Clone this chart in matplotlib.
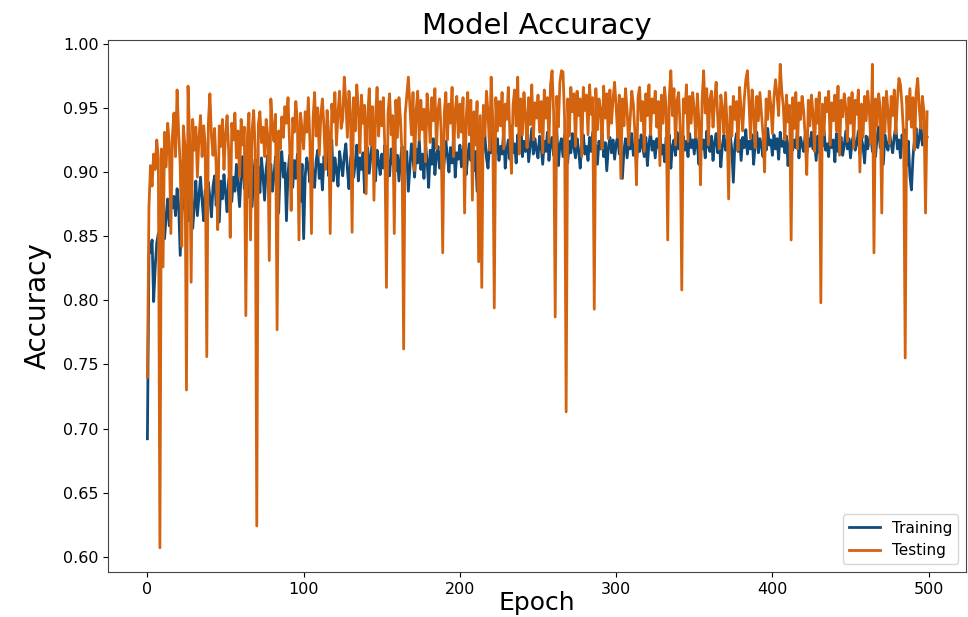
import matplotlib
matplotlib.use('Agg')
import matplotlib.pyplot as plt
import numpy as np

# accuracy per epoch, in thousandths
train_pm = [
    692, 836, 838, 847, 799, 826, 845, 852, 839, 861, 870, 848, 866, 879, 858, 883, 872, 881, 866, 887, 874, 835, 868, 880, 871,
    884, 862, 877, 889, 856, 873, 893, 866, 881, 896, 878, 862, 886, 871, 892, 880, 865, 889, 897, 874, 886, 861, 893, 879, 898,
    884, 869, 893, 901, 877, 896, 885, 906, 890, 873, 899, 912, 887, 901, 880, 907, 894, 873, 899, 910, 888, 904, 884, 911, 897,
    878, 902, 913, 892, 906, 885, 897, 912, 889, 868, 904, 916, 896, 907, 862, 899, 913, 901, 888, 909, 895, 914, 903, 877, 906,
    848, 897, 911, 904, 892, 915, 899, 888, 909, 917, 895, 906, 886, 912, 903, 920, 897, 908, 925, 893, 911, 901, 889, 916, 906,
    897, 913, 922, 902, 887, 910, 918, 896, 907, 921, 893, 911, 902, 915, 884, 906, 919, 899, 912, 925, 904, 893, 917, 908, 898,
    914, 903, 921, 889, 909, 897, 918, 906, 927, 901, 913, 893, 910, 920, 899, 908, 916, 885, 904, 922, 911, 896, 918, 907, 925,
    902, 914, 895, 922, 909, 888, 917, 906, 926, 898, 913, 920, 903, 916, 892, 909, 924, 913, 900, 919, 907, 928, 896, 915, 910,
    921, 904, 917, 926, 898, 912, 922, 909, 930, 901, 916, 885, 913, 924, 906, 919, 928, 911, 903, 923, 915, 931, 906, 918, 926,
    909, 920, 914, 932, 903, 917, 925, 910, 936, 915, 922, 907, 929, 918, 938, 912, 924, 916, 930, 908, 921, 934, 914, 926, 917,
    911, 928, 920, 906, 924, 916, 931, 909, 922, 927, 913, 919, 933, 905, 921, 926, 912, 929, 918, 907, 924, 915, 930, 919, 911,
    926, 917, 903, 922, 929, 914, 920, 909, 927, 916, 931, 913, 921, 906, 924, 918, 930, 912, 923, 901, 919, 927, 915, 925, 910,
    922, 928, 914, 920, 895, 917, 926, 911, 923, 918, 930, 913, 921, 907, 925, 916, 929, 919, 912, 927, 905, 922, 931, 917, 924,
    911, 926, 919, 932, 914, 921, 908, 927, 916, 929, 903, 920, 925, 913, 931, 918, 922, 909, 928, 917, 924, 912, 930, 919, 925,
    914, 927, 921, 906, 929, 918, 925, 911, 932, 920, 916, 928, 909, 923, 930, 915, 926, 904, 921, 929, 917, 924, 913, 928, 918,
    892, 922, 930, 916, 925, 909, 927, 919, 933, 914, 924, 918, 929, 906, 922, 931, 915, 926, 920, 912, 928, 917, 934, 921, 925,
    913, 929, 918, 926, 910, 931, 920, 924, 915, 928, 905, 922, 930, 917, 925, 919, 932, 911, 927, 921, 916, 929, 914, 926, 920,
    931, 918, 924, 909, 928, 915, 926, 920, 933, 917, 922, 912, 929, 919, 925, 908, 930, 916, 923, 927, 913, 921, 932, 918, 926,
    911, 924, 929, 917, 922, 932, 914, 926, 920, 907, 928, 918, 925, 931, 916, 923, 912, 927, 935, 919, 924, 906, 929, 921, 917,
    930, 922, 915, 928, 936, 918, 925, 911, 929, 920, 933, 905, 924, 897, 886, 912, 927, 934, 919, 926, 938, 921, 929, 924, 927,
]

test_pm = [
    740, 873, 905, 889, 914, 902, 925, 911, 607, 918, 826, 931, 904, 938, 922, 852, 928, 946, 912, 964, 931, 905, 842, 936, 921,
    730, 967, 928, 814, 941, 917, 935, 896, 927, 944, 912, 936, 922, 756, 938, 961, 928, 913, 934, 905, 855, 936, 920, 941, 902,
    929, 944, 917, 849, 938, 925, 946, 911, 932, 896, 941, 921, 935, 788, 928, 946, 847, 932, 948, 918, 624, 937, 947, 923, 935,
    912, 941, 929, 831, 957, 936, 924, 945, 777, 932, 918, 943, 927, 951, 938, 958, 922, 870, 942, 931, 955, 939, 847, 946, 933,
    918, 947, 931, 958, 924, 852, 941, 962, 928, 950, 913, 944, 957, 935, 902, 948, 931, 852, 953, 939, 962, 921, 946, 963, 934,
    941, 974, 955, 927, 963, 946, 853, 958, 932, 968, 949, 915, 960, 938, 952, 883, 944, 965, 921, 951, 878, 943, 966, 928, 955,
    936, 958, 917, 810, 946, 961, 929, 944, 852, 956, 927, 958, 941, 912, 762, 945, 960, 974, 951, 929, 962, 901, 948, 963, 925,
    956, 933, 949, 908, 961, 944, 923, 958, 940, 965, 918, 948, 957, 931, 837, 946, 962, 925, 953, 938, 966, 912, 948, 959, 927,
    953, 931, 958, 868, 941, 962, 929, 956, 878, 947, 921, 955, 830, 944, 810, 952, 928, 963, 946, 917, 974, 941, 794, 958, 932,
    955, 936, 962, 918, 953, 941, 966, 928, 899, 952, 964, 936, 974, 914, 957, 929, 962, 944, 919, 958, 937, 968, 925, 954, 942,
    960, 931, 955, 915, 964, 942, 958, 923, 968, 979, 946, 787, 959, 935, 970, 979, 978, 941, 713, 957, 928, 966, 947, 961, 920,
    963, 944, 957, 912, 966, 948, 960, 929, 968, 945, 958, 793, 965, 933, 957, 949, 918, 967, 942, 961, 926, 964, 938, 956, 970,
    951, 927, 960, 895, 957, 936, 965, 948, 921, 942, 963, 953, 931, 890, 958, 966, 940, 955, 916, 961, 944, 968, 929, 957, 946,
    963, 935, 955, 905, 960, 938, 966, 950, 847, 958, 979, 944, 965, 921, 956, 962, 933, 808, 957, 946, 968, 924, 959, 938, 962,
    948, 927, 961, 939, 890, 956, 979, 946, 965, 921, 957, 963, 935, 955, 970, 943, 918, 960, 949, 930, 962, 937, 879, 951, 928,
    959, 941, 955, 917, 966, 948, 932, 957, 972, 979, 955, 926, 964, 948, 919, 959, 940, 962, 946, 929, 900, 957, 941, 963, 952,
    930, 958, 972, 960, 944, 984, 963, 951, 925, 960, 939, 952, 847, 958, 934, 962, 918, 954, 941, 959, 948, 927, 898, 956, 936,
    960, 945, 916, 957, 938, 962, 798, 953, 929, 958, 947, 963, 921, 954, 940, 960, 932, 967, 913, 956, 943, 961, 950, 924, 958,
    938, 962, 919, 956, 945, 964, 900, 953, 927, 959, 940, 963, 948, 922, 984, 837, 957, 936, 961, 950, 868, 958, 931, 963, 947,
    922, 959, 944, 964, 930, 956, 973, 968, 951, 928, 755, 959, 941, 965, 935, 958, 917, 962, 973, 950, 934, 959, 947, 868, 947,
]

train_acc = np.array(train_pm) / 1000
test_acc = np.array(test_pm) / 1000
epochs_train = np.arange(len(train_acc))
epochs_test = np.arange(len(test_acc))

fig = plt.figure(figsize=(9.68, 6.17), dpi=100)
ax = fig.add_axes([0.112, 0.073, 0.886, 0.862])

ax.plot(epochs_train, train_acc, color='#134b78', lw=2, label='Training')
ax.plot(epochs_test, test_acc, color='#d4630f', lw=2, label='Testing')

ax.set_yticks(np.arange(0.60, 1.001, 0.05))
ax.tick_params(labelsize=11.5)
for s in ax.spines.values():
    s.set_color('#444444')

ax.set_title('Model Accuracy', fontsize=21, pad=4)
ax.set_xlabel('Epoch', fontsize=18)
ax.xaxis.set_label_coords(0.5, -0.036)
ax.set_ylabel('Accuracy', fontsize=20, labelpad=8)
ax.legend(loc='lower right', fontsize=11)

fig.savefig('out.png', dpi=100)
